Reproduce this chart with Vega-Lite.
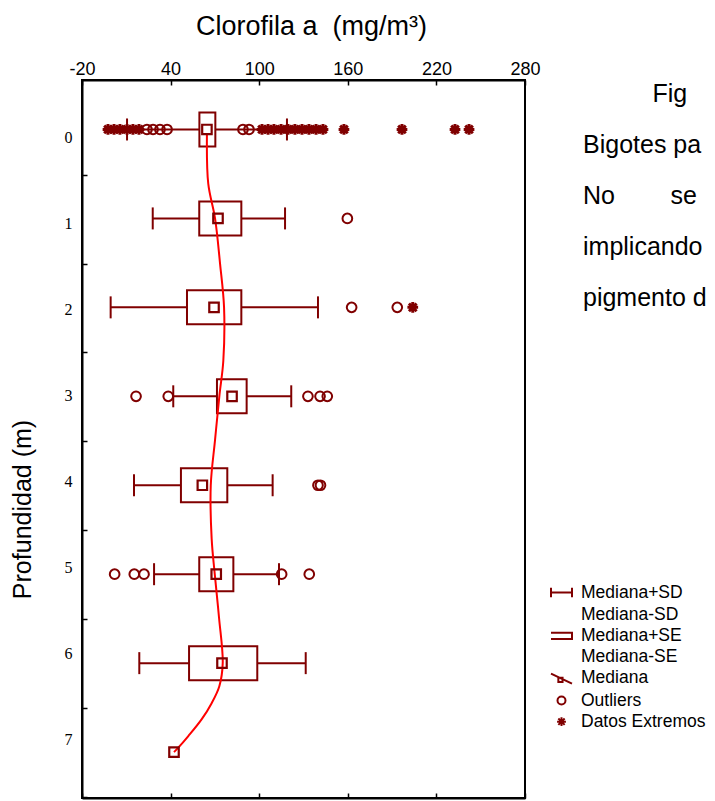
{
  "$schema": "https://vega.github.io/schema/vega-lite/v6.json",
  "width": 443,
  "height": 718,
  "autosize": "none",
  "padding": {"left": 82, "top": 80, "right": 190, "bottom": 3},
  "background": "white",
  "config": {
    "view": {"stroke": "black", "strokeWidth": 2},
    "axis": {"domainColor": "black", "domainWidth": 2, "tickColor": "black", "tickWidth": 1.5, "labelColor": "black", "titleColor": "black", "grid": false, "titleFontWeight": "normal"}
  },
  "title": {
    "text": ["\u200b\u00a0\u00a0\u00a0\u00a0\u00a0\u00a0\u00a0\u00a0\u00a0\u00a0Fig", "Bigotes pa", "No\u00a0\u00a0\u00a0\u00a0\u00a0\u00a0\u00a0\u00a0se", "implicando", "pigmento d"],
    "anchor": "start", "frame": "group", "orient": "top", "align": "left",
    "dx": 501, "dy": 303, "fontSize": 25, "font": "Liberation Sans", "fontWeight": "normal", "lineHeight": 51, "color": "black"
  },
  "datasets": {
    "boxes": [
      {"depth": 0, "median": 64.6, "seLo": 59.5, "seHi": 70.3, "sdLo": 10.5, "sdHi": 118.8},
      {"depth": 1, "median": 72.1, "seLo": 59.4, "seHi": 87.9, "sdLo": 27.9, "sdHi": 117.5},
      {"depth": 2, "median": 69.4, "seLo": 51.1, "seHi": 87.9, "sdLo": -0.6, "sdHi": 139.8},
      {"depth": 3, "median": 81.6, "seLo": 71.4, "seHi": 91.5, "sdLo": 41.8, "sdHi": 121.7},
      {"depth": 4, "median": 61.5, "seLo": 47.0, "seHi": 78.4, "sdLo": 15.2, "sdHi": 109.1},
      {"depth": 5, "median": 70.9, "seLo": 59.4, "seHi": 82.5, "sdLo": 28.8, "sdHi": 113.4},
      {"depth": 6, "median": 74.8, "seLo": 52.5, "seHi": 98.7, "sdLo": 18.8, "sdHi": 131.5},
      {"depth": 7, "median": 42.3, "seLo": null, "seHi": null, "sdLo": null, "sdHi": null}
    ],
    "curve": [
      {"depth": 0.05, "value": 64.6},
      {"depth": 0.61, "value": 65.5},
      {"depth": 1.0, "value": 70.1},
      {"depth": 1.51, "value": 73.5},
      {"depth": 2.0, "value": 76.2},
      {"depth": 2.6, "value": 75.7},
      {"depth": 3.0, "value": 73.0},
      {"depth": 3.49, "value": 70.1},
      {"depth": 4.0, "value": 67.2},
      {"depth": 4.6, "value": 67.8},
      {"depth": 5.0, "value": 69.9},
      {"depth": 5.49, "value": 72.8},
      {"depth": 6.0, "value": 75.3},
      {"depth": 6.26, "value": 73.0},
      {"depth": 6.45, "value": 67.8},
      {"depth": 6.63, "value": 61.1},
      {"depth": 6.82, "value": 52.0},
      {"depth": 6.95, "value": 45.2},
      {"depth": 7.0, "value": 42.3}
    ],
    "outliers": [
      {"depth": 0, "value": -2.4, "kind": "Datos Extremos"},
      {"depth": 0, "value": 1.7, "kind": "Datos Extremos"},
      {"depth": 0, "value": 5.7, "kind": "Datos Extremos"},
      {"depth": 0, "value": 10.5, "kind": "Datos Extremos"},
      {"depth": 0, "value": 14.5, "kind": "Datos Extremos"},
      {"depth": 0, "value": 18.6, "kind": "Datos Extremos"},
      {"depth": 0, "value": 24.0, "kind": "Outliers"},
      {"depth": 0, "value": 28.1, "kind": "Outliers"},
      {"depth": 0, "value": 32.8, "kind": "Outliers"},
      {"depth": 0, "value": 37.6, "kind": "Outliers"},
      {"depth": 0, "value": 89.0, "kind": "Outliers"},
      {"depth": 0, "value": 93.1, "kind": "Outliers"},
      {"depth": 0, "value": 101.9, "kind": "Datos Extremos"},
      {"depth": 0, "value": 106.0, "kind": "Datos Extremos"},
      {"depth": 0, "value": 110.0, "kind": "Datos Extremos"},
      {"depth": 0, "value": 114.8, "kind": "Datos Extremos"},
      {"depth": 0, "value": 119.5, "kind": "Datos Extremos"},
      {"depth": 0, "value": 124.2, "kind": "Datos Extremos"},
      {"depth": 0, "value": 129.0, "kind": "Datos Extremos"},
      {"depth": 0, "value": 133.7, "kind": "Datos Extremos"},
      {"depth": 0, "value": 138.5, "kind": "Datos Extremos"},
      {"depth": 0, "value": 143.2, "kind": "Datos Extremos"},
      {"depth": 0, "value": 157.4, "kind": "Datos Extremos"},
      {"depth": 0, "value": 196.7, "kind": "Datos Extremos"},
      {"depth": 0, "value": 232.6, "kind": "Datos Extremos"},
      {"depth": 0, "value": 242.1, "kind": "Datos Extremos"},
      {"depth": 1, "value": 159.7, "kind": "Outliers"},
      {"depth": 2, "value": 162.6, "kind": "Outliers"},
      {"depth": 2, "value": 193.5, "kind": "Outliers"},
      {"depth": 2, "value": 204.0, "kind": "Datos Extremos"},
      {"depth": 3, "value": 16.6, "kind": "Outliers"},
      {"depth": 3, "value": 38.4, "kind": "Outliers"},
      {"depth": 3, "value": 133.0, "kind": "Outliers"},
      {"depth": 3, "value": 141.2, "kind": "Outliers"},
      {"depth": 3, "value": 146.1, "kind": "Outliers"},
      {"depth": 4, "value": 139.8, "kind": "Outliers"},
      {"depth": 4, "value": 141.5, "kind": "Outliers"},
      {"depth": 5, "value": 2.1, "kind": "Outliers"},
      {"depth": 5, "value": 15.4, "kind": "Outliers"},
      {"depth": 5, "value": 22.0, "kind": "Outliers"},
      {"depth": 5, "value": 115.2, "kind": "Outliers"},
      {"depth": 5, "value": 133.9, "kind": "Outliers"}
    ]
  },
  "layer": [
    {
      "layer": [
        {
          "data": {"name": "boxes"},
          "mark": {"type": "rule", "color": "#800000", "strokeWidth": 2},
          "encoding": {
            "x": {"field": "sdLo", "type": "quantitative", "scale": {"domain": [-20, 280], "nice": false, "zero": false},
              "axis": {"orient": "top", "values": [-20, 40, 100, 160, 220, 280], "labelExpr": "'' + datum.value", "tickSize": -5, "labelFont": "Liberation Sans", "labelFontSize": 18, "labelPadding": 7, "labelFlush": false,
                "title": "Clorofila a\u00a0\u00a0(mg/m³)", "titleFont": "Liberation Sans", "titleFontSize": 27, "titleX": 229, "titleY": -46, "titleBaseline": "alphabetic"}},
            "x2": {"field": "seLo"},
            "y": {"field": "depth", "type": "quantitative", "scale": {"domain": [-0.5, 7.46], "reverse": true, "nice": false, "zero": false},
              "axis": {"orient": "left", "values": [0, 1, 2, 3, 4, 5, 6, 7], "format": "d", "tickOffset": 45.1, "tickSize": -5, "labelOffset": {"expr": "-45.1 + 8.5 - 3.0*datum.value"},
                "labelFont": "Liberation Serif", "labelFontSize": 16, "labelPadding": 15, "labelFlush": false,
                "title": "Profundidad (m)", "titleFont": "Liberation Sans", "titleFontSize": 25, "titleX": -52, "titleY": 429, "titleAngle": -90, "titleBaseline": "alphabetic"}}
          }
        },
        {
          "data": {"name": "boxes"},
          "mark": {"type": "rule", "color": "#800000", "strokeWidth": 2},
          "encoding": {
            "x": {"field": "seHi", "type": "quantitative"},
            "x2": {"field": "sdHi"},
            "y": {"field": "depth", "type": "quantitative"}
          }
        },
        {
          "data": {"name": "boxes"},
          "mark": {"type": "point", "shape": "M0,-1L0,1", "size": 484, "filled": false, "opacity": 1, "color": "#800000", "strokeWidth": 2},
          "encoding": {"x": {"field": "sdLo", "type": "quantitative"}, "y": {"field": "depth", "type": "quantitative"}}
        },
        {
          "data": {"name": "boxes"},
          "mark": {"type": "point", "shape": "M0,-1L0,1", "size": 484, "filled": false, "opacity": 1, "color": "#800000", "strokeWidth": 2},
          "encoding": {"x": {"field": "sdHi", "type": "quantitative"}, "y": {"field": "depth", "type": "quantitative"}}
        },
        {
          "data": {"name": "boxes"},
          "mark": {"type": "bar", "orient": "horizontal", "size": 34, "filled": false, "opacity": 1, "color": "#800000", "strokeWidth": 2},
          "encoding": {"x": {"field": "seLo", "type": "quantitative"}, "x2": {"field": "seHi"}, "y": {"field": "depth", "type": "quantitative"}}
        },
        {
          "data": {"name": "curve"},
          "mark": {"type": "line", "color": "#ff0000", "strokeWidth": 2, "interpolate": "catmull-rom"},
          "encoding": {"x": {"field": "value", "type": "quantitative"}, "y": {"field": "depth", "type": "quantitative"}, "order": {"field": "depth", "type": "quantitative"}}
        },
        {
          "data": {"name": "boxes"},
          "mark": {"type": "point", "shape": "square", "size": 90, "filled": false, "opacity": 1, "color": "#800000", "strokeWidth": 2.2},
          "encoding": {"x": {"field": "median", "type": "quantitative"}, "y": {"field": "depth", "type": "quantitative"}}
        },
        {
          "data": {"name": "outliers"},
          "mark": {"type": "point", "size": 650, "filled": false, "opacity": 1, "color": "#800000"},
          "encoding": {
            "x": {"field": "value", "type": "quantitative"},
            "y": {"field": "depth", "type": "quantitative"},
            "strokeWidth": {"field": "kind", "type": "nominal", "scale": {"domain": ["Outliers", "Datos Extremos"], "range": [2, 3]}, "legend": null},
            "shape": {"field": "kind", "type": "nominal",
              "scale": {"domain": ["Mediana+SD", "Mediana-SD", "Mediana+SE", "Mediana-SE", "Mediana", "Outliers", "Datos Extremos"],
                "range": ["M-1,-0.45L-1,0.45M-1,0L1,0M1,-0.45L1,0.45", "M0,0", "M-1,-0.3L1,-0.3L1,0.3L-1,0.3", "M0,0", "M-0.3,-0.05L0.1,-0.05L0.1,0.35L-0.3,0.35ZM-1,-0.45L1,0.5", "M-0.38,0A0.38,0.38 0 1,0 0.38,0A0.38,0.38 0 1,0 -0.38,0Z", "M-0.42,0L0.42,0M0,-0.42L0,0.42M-0.3,-0.3L0.3,0.3M-0.3,0.3L0.3,-0.3"]},
              "legend": {"orient": "none", "legendX": 468, "legendY": 501, "title": null, "symbolSize": 441, "symbolStrokeColor": "#800000", "symbolFillColor": "transparent", "symbolStrokeWidth": 2, "symbolOpacity": 1,
                "labelFont": "Liberation Sans", "labelFontSize": 17.5, "labelColor": "black", "rowPadding": 1.2, "labelOffset": 8, "padding": 0}}
          }
        }
      ]
    },
    {
      "data": {"name": "curve"},
      "mark": {"type": "point", "opacity": 0},
      "encoding": {
        "x": {"field": "value", "type": "quantitative",
          "axis": {"orient": "bottom", "values": [-20, 40, 100, 160, 220, 280], "labels": false, "tickSize": -5, "title": null}}
      }
    }
  ],
  "resolve": {"axis": {"x": "independent"}}
}
